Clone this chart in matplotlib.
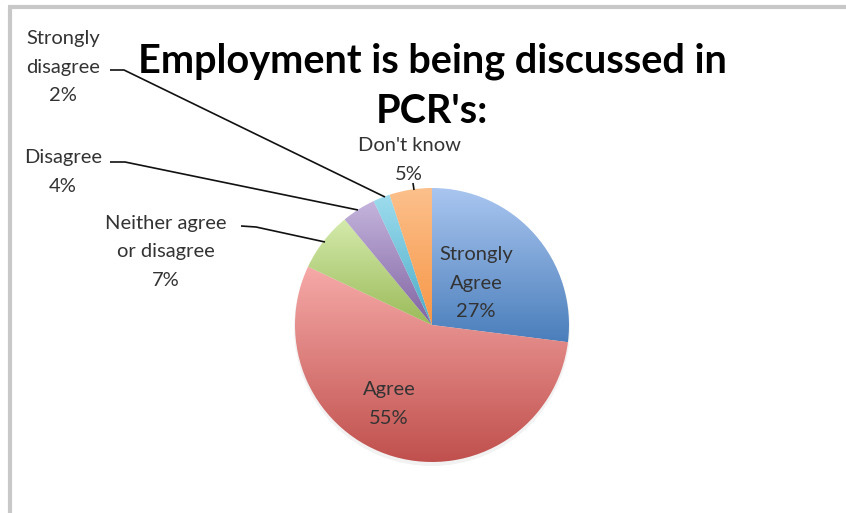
import numpy as np
import matplotlib
matplotlib.use("Agg")
import matplotlib.pyplot as plt
from matplotlib.colors import LinearSegmentedColormap

plt.rcParams['font.family'] = ['Lato', 'DejaVu Sans']

# Survey responses
categories = ["Strongly\nAgree", "Agree", "Neither agree\nor disagree",
              "Disagree", "Strongly\ndisagree", "Don't know"]
values = [27, 55, 7, 4, 2, 5]

# (light top, dark bottom) gradient colours per slice
slice_colors = [("#aac6f0", "#4a7ebb"),
                ("#f6aaa8", "#c0504d"),
                ("#d4eaac", "#9bbb59"),
                ("#c4b4dc", "#8064a2"),
                ("#9edcee", "#4bacc6"),
                ("#fcc08c", "#f79646")]

W, H = 846, 513
fig = plt.figure(figsize=(W / 100, H / 100), dpi=100)
ax = fig.add_axes([0, 0, 1, 1])
ax.set_xlim(0, W)
ax.set_ylim(0, H)
ax.set_aspect('equal')
ax.axis('off')


def Y(y):
    return H - y


cx, cy, R = 432, Y(325), 137

# faint drop shadow under the pie
shadow = plt.Circle((cx, cy - 3), R + 1, color="#000000", alpha=0.05, lw=0, zorder=0)
ax.add_patch(shadow)

wedges, _ = ax.pie(values, center=(cx, cy), radius=R, startangle=90,
                   counterclock=False, wedgeprops=dict(linewidth=0))
ax.set_xlim(0, W)
ax.set_ylim(0, H)

grad = np.linspace(0, 1, 256).reshape(-1, 1)
for w, (c1, c2) in zip(wedges, slice_colors):
    w.set_facecolor("none")
    ext = w.get_path().get_extents()
    cmap = LinearSegmentedColormap.from_list("g", [c2, c1])
    im = ax.imshow(grad, cmap=cmap, origin='lower', aspect='auto',
                   extent=(ext.x0, ext.x1, ext.y0, ext.y1), zorder=1,
                   interpolation='bilinear')
    im.set_clip_path(w)
ax.set_xlim(0, W)
ax.set_ylim(0, H)

txt = "#333333"
fs = 14.5
ls = 1.85

# labels inside the two large slices
ax.text(476, Y(283), f"{categories[0]}\n{values[0]}%", ha='center', va='center',
        fontsize=fs, color=txt, linespacing=ls, zorder=3)
ax.text(389, Y(404), f"{categories[1]}\n{values[1]}%", ha='center', va='center',
        fontsize=fs, color=txt, linespacing=ls, zorder=3)

# outside labels with leader lines
outer = [
    (2, (166, 252), [(241, 226), (256, 227), (325, 242)]),
    (3, (63, 172), [(110, 162), (125, 162), (358, 210)]),
    (4, (63, 67), [(110, 70), (124, 70), (385, 197)]),
    (5, (409, 160), [(413, 183), (414, 190)]),
]
for i, (tx, ty), pts in outer:
    ax.text(tx, Y(ty), f"{categories[i]}\n{values[i]}%", ha='center', va='center',
            fontsize=fs, color=txt, linespacing=ls, zorder=3)
    xs = [p[0] for p in pts]
    ys = [Y(p[1]) for p in pts]
    ax.plot(xs, ys, color="#111111", lw=1.2, zorder=2, solid_capstyle='butt')

# title
ax.text(432, Y(86), "Employment is being discussed in\nPCR's:", ha='center', va='center',
        fontsize=28.5, fontweight='bold', color="#000000", linespacing=1.42, zorder=3)

# chart frame (left and top edges)
ax.plot([9.5, 9.5], [Y(7), 0], color="#c8c8c8", lw=3, solid_capstyle='butt')
ax.plot([8, W], [Y(7), Y(7)], color="#c8c8c8", lw=3, solid_capstyle='butt')

fig.savefig("out.png", dpi=100)
